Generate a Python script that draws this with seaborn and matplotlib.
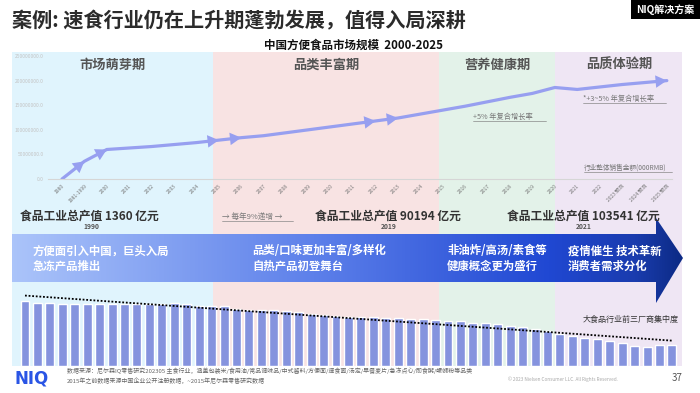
import numpy as np
import pandas as pd
import matplotlib
matplotlib.use("Agg")
import matplotlib.pyplot as plt
import seaborn as sns
from matplotlib.patches import Rectangle, Polygon
from matplotlib.colors import LinearSegmentedColormap

# 市场规模 (行业整体销售金额, 000RMB)
years = ["1980", "1981-1999", "2000", "2001", "2002", "2003", "2004", "2005", "2006",
         "2007", "2008", "2009", "2010", "2011", "2012", "2013", "2014", "2015", "2016",
         "2017", "2018", "2019", "2020", "2021", "2022", "2023 预测", "2024 预测", "2025 预测"]
sales = [0, 36e6, 60e6, 63e6, 66e6, 70e6, 74e6, 79e6, 84e6, 88e6, 94e6, 100e6, 106e6,
         112e6, 118e6, 124e6, 132e6, 140e6, 148e6, 157e6, 166e6, 174e6, 186e6, 182e6,
         187e6, 192e6, 196e6, 200e6]

# 大食品行业前三厂商集中度
conc = [32.7, 31.3, 31.7, 31.2, 31.2, 30.8, 31.2, 30.8, 31.2, 30.8, 30.8, 30.8, 31.7,
        31.0, 30.2, 30.2, 30.2, 28.7, 28.0, 28.0, 28.0, 27.7, 26.8, 26.0, 25.3, 25.2,
        24.7, 24.7, 24.3, 24.0, 23.8, 23.5, 23.3, 23.0, 22.7, 22.3, 21.7, 21.3, 20.8,
        20.0, 19.3, 18.5, 17.5, 15.8, 15.0, 14.2, 13.3, 12.5, 11.3, 10.2, 9.7, 10.3, 10.3]

phases = ["市场萌芽期", "品类丰富期", "营养健康期", "品质体验期"]
phase_colors = ["#e0f4fd", "#f8e3e3", "#e3f2e9", "#efe6f4"]
phase_edges = [12, 213, 439, 555, 682]

stage_text = ["方便面引入中国，巨头入局\n急冻产品推出",
              "品类/口味更加丰富/多样化\n自热产品初登舞台",
              "非油炸/高汤/素食等\n健康概念更为盛行",
              "疫情催生 技术革新\n消费者需求分化"]
output_text = ["食品工业总产值 1360 亿元", "食品工业总产值 90194 亿元", "食品工业总产值 103541 亿元"]
output_year = ["1990", "2019", "2021"]

sns.set_theme(style="white")
plt.rcParams['font.family'] = ['Noto Sans CJK SC', 'DejaVu Sans']

W, H = 700, 393
fig = plt.figure(figsize=(7, 3.93), dpi=100)

def box(l, t, r, b):
    return [l / W, 1 - b / H, (r - l) / W, (b - t) / H]

bg = fig.add_axes([0, 0, 1, 1], zorder=0)
bg.set_xlim(0, W)
bg.set_ylim(H, 0)
bg.axis('off')

# 阶段背景
for i in range(4):
    bg.add_patch(Rectangle((phase_edges[i], 52), phase_edges[i + 1] - phase_edges[i], 314,
                           color=phase_colors[i], lw=0, zorder=1))
phase_x = [113, 326, 497, 619]
for i in range(4):
    bg.text(phase_x[i], 65, phases[i], ha='center', va='center', fontsize=9.5,
            fontweight='bold', color='#555555', zorder=5)

# 标题
bg.text(12, 21, "案例: 速食行业仍在上升期蓬勃发展，值得入局深耕", fontsize=14.5,
        fontweight='bold', color='#2b2b2b', va='center', ha='left')
bg.add_patch(Rectangle((631, 0), 69, 19, color='black', lw=0))
bg.text(665, 9.5, "NIQ解决方案", color='white', fontsize=7.2, fontweight='bold',
        ha='center', va='center')
bg.text(353, 45, "中国方便食品市场规模  2000-2025", fontsize=8.3, fontweight='bold',
        color='#111111', ha='center', va='center')

# 增长率注释
def note(x, y, s, size=5.2, color='#777777'):
    return bg.text(x, y, s, fontsize=size, color=color, ha='left', va='center', zorder=5)

note(473, 117, "+5% 年复合增长率")
bg.plot([473, 546], [120.5, 120.5], color='#888888', lw=0.5, zorder=5)
note(583, 99, "*+3~5% 年复合增长率")
bg.plot([583, 666], [102.5, 102.5], color='#888888', lw=0.5, zorder=5)
note(584, 168, "行业整体销售金额(000RMB)", size=4.8)
bg.plot([584, 672], [171.5, 171.5], color='#888888', lw=0.5, zorder=5)

# 食品工业总产值
out_x = [20, 315, 507]
year_x = [91, 389, 584]
for i in range(3):
    bg.text(out_x[i], 216, output_text[i], fontsize=8.5, fontweight='bold',
            color='#333333', ha='left', va='center', zorder=5)
    bg.text(year_x[i], 226.5, output_year[i], fontsize=4.8, fontweight='bold',
            color='#555555', ha='center', va='center', zorder=5)
bg.text(222, 217, "→ 每年9%递增 →", fontsize=5.5, color='#777777', ha='left',
        va='center', zorder=5)
bg.plot([222, 293], [220.5, 220.5], color='#888888', lw=0.5, zorder=5)

# 大箭头
arrow_pts = [(12, 234), (656, 234), (656, 218), (683, 258), (656, 303), (656, 282), (12, 282)]
arrow = Polygon(arrow_pts, closed=True, facecolor='none', edgecolor='none', zorder=2)
bg.add_patch(arrow)
cmap = LinearSegmentedColormap.from_list(
    "band", [(0, "#abc4fa"), (0.45, "#5d80ea"), (0.8, "#2048d3"), (0.93, "#1a3cae"), (1, "#0c2a85")])
grad = np.linspace(0, 1, 512).reshape(1, -1)
im = bg.imshow(grad, extent=[12, 683, 303, 218], cmap=cmap, aspect='auto', zorder=2)
im.set_clip_path(arrow)
bg.set_xlim(0, W)
bg.set_ylim(H, 0)

stage_x = [33, 252, 447, 568]
for i in range(4):
    bg.text(stage_x[i], 258.5, stage_text[i], fontsize=8.2, fontweight='bold', color='white',
            ha='left', va='center', linespacing=1.25, zorder=5)

bg.text(583, 319, "大食品行业前三厂商集中度", fontsize=5.8, color='#333333', ha='left',
        va='center', zorder=5)

# 页脚
bg.text(15, 379, "NIQ", fontsize=12, fontweight='bold', color='#2a55e5', family='DejaVu Sans',
        ha='left', va='center')
bg.text(67, 371, "数据来源：尼尔森IQ零售研究202305 主食行业，涵盖包装米/食用油/常品调味品/中式酱料/方便面/速食面/汤定/早餐麦片/急冻点心/即食粥/螺蛳粉等品类",
        fontsize=4.3, color='#666666', ha='left', va='center')
bg.text(67, 380.5, "2015年之前数据来源中国企业公开注册数据，~2015年尼尔森零售研究数据",
        fontsize=4.3, color='#666666', ha='left', va='center')
bg.text(508, 379.5, "© 2023 Nielsen Consumer LLC. All Rights Reserved.", fontsize=3.4,
        color='#aaaaaa', ha='left', va='center')
bg.text(683, 378, "37", fontsize=7, color='#555555', ha='right', va='center')

# 市场规模折线
axl = fig.add_axes(box(48, 56, 672, 179), zorder=2)
axl.patch.set_alpha(0)
df = pd.DataFrame({"idx": range(len(years)), "sales": sales})
line_color = "#979ff0"
sns.lineplot(data=df, x="idx", y="sales", ax=axl, color=line_color, lw=2.3, sort=False)
for i in [1, 2, 7, 8, 14, 15, 27]:
    axl.annotate('', xy=(i, sales[i]), xytext=(i - 0.5, (sales[i] + sales[i - 1]) / 2),
                 arrowprops=dict(arrowstyle='-|>,head_length=0.9,head_width=0.5',
                                 color=line_color, lw=0, shrinkA=0, shrinkB=0,
                                 mutation_scale=9))
axl.set_xlim(-0.625, 27.23)
axl.set_ylim(0, 250e6)
axl.set_xticks(range(len(years)))
axl.set_xticklabels(years, rotation=45, ha='right', va='top', rotation_mode='anchor',
                    fontsize=3.6, color='#777777')
yt = np.arange(0, 250e6 + 1, 50e6)
axl.set_yticks(yt)
axl.set_yticklabels(["%.1f" % v for v in yt], fontsize=3.6, color='#c4c4c4')
axl.tick_params(axis='both', length=0, pad=3)
axl.set_xlabel("")
axl.set_ylabel("")
for s in ["top", "right", "left"]:
    axl.spines[s].set_visible(False)
axl.spines["bottom"].set_color("#d6d6d6")
axl.spines["bottom"].set_linewidth(0.8)

# 集中度柱状图
axb = fig.add_axes(box(12, 290, 682, 366), zorder=2)
axb.patch.set_alpha(0)
dfb = pd.DataFrame({"n": range(len(conc)), "conc": conc})
sns.barplot(data=dfb, x="n", y="conc", ax=axb, color="#8593de", saturation=1, width=0.72)
coef = np.polyfit(dfb["n"], dfb["conc"], 1)
axb.plot(dfb["n"], np.polyval(coef, dfb["n"]), ls=(0, (1, 1)), color='black', lw=1.3)
axb.set_xlim(-1.045, 52.81)
axb.set_ylim(0, 38)
axb.axis('off')

fig.savefig("out.png", dpi=100)
